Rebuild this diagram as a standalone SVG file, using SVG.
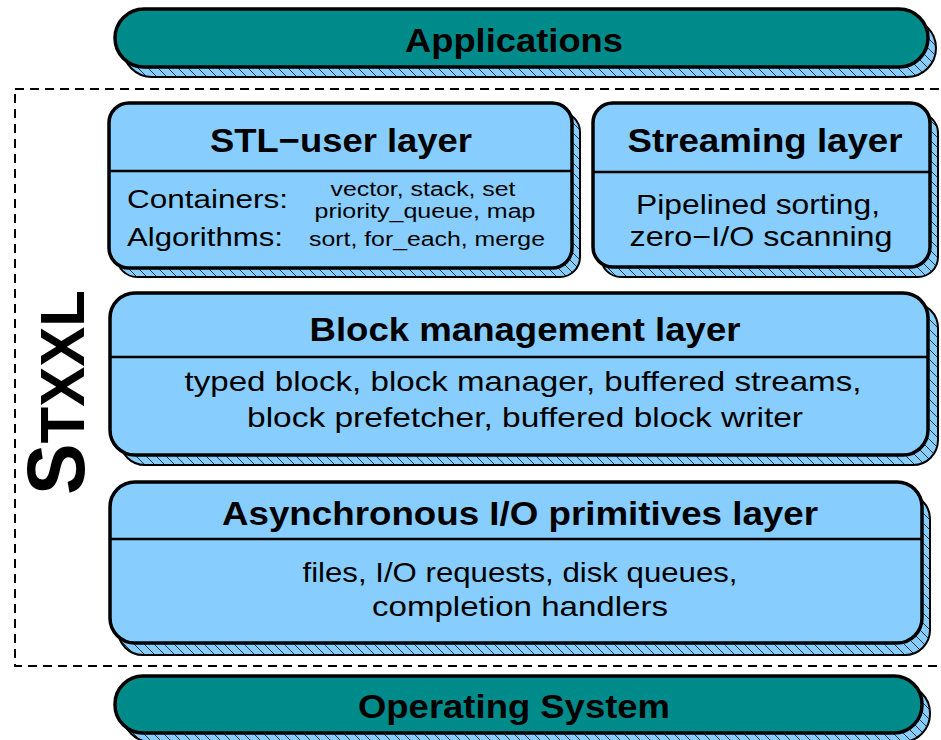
<svg xmlns="http://www.w3.org/2000/svg" width="941" height="740" viewBox="0 0 941 740">
<defs>
<pattern id="hatch" patternUnits="userSpaceOnUse" width="10" height="10">
<rect width="10" height="10" fill="#87CEFF"/>
<path d="M-2,-2 L12,12 M-2,8 L2,12 M8,-2 L12,2" stroke="#333" stroke-width="1"/>
</pattern>
</defs>
<style>
.frame{fill:none;stroke:#000;stroke-width:2;stroke-dasharray:9,6}
.shadow{fill:url(#hatch);stroke:#000;stroke-width:2}
.teal{fill:#008B8B;stroke:#000;stroke-width:3.5}
.blue{fill:#87CEFF;stroke:#000;stroke-width:3.5}
.div{stroke:#000;stroke-width:2.5}
.title{font-family:"Liberation Sans",Arial,sans-serif;font-weight:bold;font-size:34px;fill:#000;text-anchor:middle}
.body{font-family:"Liberation Sans",Arial,sans-serif;font-size:28px;fill:#000;text-anchor:middle}
.lab{font-family:"Liberation Sans",Arial,sans-serif;font-size:26px;fill:#000}
.small{font-family:"Liberation Sans",Arial,sans-serif;font-size:20px;fill:#000;text-anchor:middle}
.logo{font-family:"Liberation Sans",Arial,sans-serif;font-weight:bold;fill:#000}
</style>
<rect class="frame" x="15" y="89" width="945" height="577"/>
<g id="stxxl">
<text class="logo" transform="translate(84,495) rotate(-90)" textLength="205" lengthAdjust="spacingAndGlyphs"><tspan font-size="81">S</tspan><tspan font-size="63">TXXL</tspan></text>
</g>
<g id="applications">
<rect class="shadow" x="123" y="19" width="813" height="58" rx="29"/>
<rect class="teal" x="115" y="9" width="813" height="58" rx="29"/>
<text class="title" x="514" y="52" textLength="218" lengthAdjust="spacingAndGlyphs">Applications</text>
</g>
<g id="stl">
<rect class="shadow" x="117" y="112" width="463" height="165" rx="20"/>
<rect class="blue" x="109" y="103" width="463" height="165" rx="20"/>
<line class="div" x1="109" y1="171" x2="572" y2="171"/>
<text class="title" x="341" y="152" textLength="262" lengthAdjust="spacingAndGlyphs">STL−user layer</text>
<text class="lab" x="127" y="208" textLength="161" lengthAdjust="spacingAndGlyphs">Containers:</text>
<text class="lab" x="127" y="246" textLength="156" lengthAdjust="spacingAndGlyphs">Algorithms:</text>
<text class="small" x="423" y="196" textLength="185" lengthAdjust="spacingAndGlyphs">vector, stack, set</text>
<text class="small" x="425" y="218" textLength="221" lengthAdjust="spacingAndGlyphs">priority_queue, map</text>
<text class="small" x="427" y="246" textLength="236" lengthAdjust="spacingAndGlyphs">sort, for_each, merge</text>
</g>
<g id="streaming">
<rect class="shadow" x="601" y="113" width="337" height="164" rx="20"/>
<rect class="blue" x="593" y="103" width="337" height="164" rx="20"/>
<line class="div" x1="593" y1="172" x2="930" y2="172"/>
<text class="title" x="765" y="152" textLength="275" lengthAdjust="spacingAndGlyphs">Streaming layer</text>
<text class="body" x="758" y="214" textLength="244" lengthAdjust="spacingAndGlyphs">Pipelined sorting,</text>
<text class="body" x="761" y="246" textLength="263" lengthAdjust="spacingAndGlyphs">zero−I/O scanning</text>
</g>
<g id="block">
<rect class="shadow" x="120" y="303" width="818" height="162" rx="25"/>
<rect class="blue" x="110" y="293" width="818" height="162" rx="25"/>
<line class="div" x1="110" y1="357" x2="928" y2="357"/>
<text class="title" x="525" y="341" textLength="431" lengthAdjust="spacingAndGlyphs">Block management layer</text>
<text class="body" x="523" y="391" textLength="677" lengthAdjust="spacingAndGlyphs">typed block, block manager, buffered streams,</text>
<text class="body" x="525" y="427" textLength="556" lengthAdjust="spacingAndGlyphs">block prefetcher, buffered block writer</text>
</g>
<g id="async">
<rect class="shadow" x="118" y="494" width="812" height="161" rx="25"/>
<rect class="blue" x="110" y="482" width="812" height="161" rx="25"/>
<line class="div" x1="110" y1="539" x2="922" y2="539"/>
<text class="title" x="520" y="525" textLength="596" lengthAdjust="spacingAndGlyphs">Asynchronous I/O primitives layer</text>
<text class="body" x="520" y="582" textLength="435" lengthAdjust="spacingAndGlyphs">files, I/O requests, disk queues,</text>
<text class="body" x="520" y="616" textLength="296" lengthAdjust="spacingAndGlyphs">completion handlers</text>
</g>
<g id="os">
<rect class="shadow" x="123" y="685" width="807" height="57" rx="28"/>
<rect class="teal" x="115" y="676" width="807" height="57" rx="28"/>
<text class="title" x="514" y="718" textLength="312" lengthAdjust="spacingAndGlyphs">Operating System</text>
</g>
<g id="connectors"/>
</svg>
